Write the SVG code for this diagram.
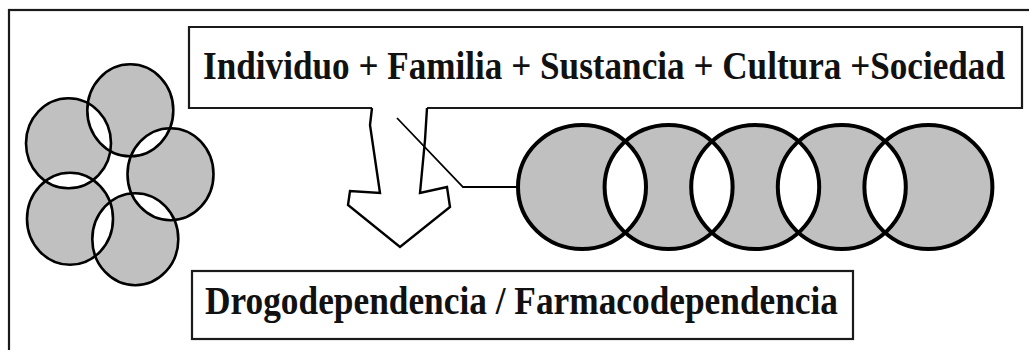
<svg xmlns="http://www.w3.org/2000/svg" width="1029" height="350" viewBox="0 0 1029 350">
<style>
.frame{fill:none;stroke:#1a1a1a;stroke-width:2.2}
.box{fill:#fff;stroke:#1a1a1a;stroke-width:2.2}
.lbl{font-family:"Liberation Serif","Times New Roman",serif;font-weight:bold;font-size:35px;fill:#111}
.ring{fill:none;stroke:#000}
.shade{fill:#c0c0c0;fill-rule:evenodd;stroke:none}
</style>
<rect width="1029" height="350" fill="#fff"/>
<rect class="frame" x="9" y="10" width="1040" height="360"/>

<g id="flower">
<path class="shade" d="M173.3,110.3a43,46 0 1,0 -86,0a43,46 0 1,0 86,0Z M111,143.3a42.5,45 0 1,0 -85,0a42.5,45 0 1,0 85,0Z M213.5,174.2a43,46 0 1,0 -86,0a43,46 0 1,0 86,0Z M113,218.8a43,46 0 1,0 -86,0a43,46 0 1,0 86,0Z M178.3,239.2a43,46 0 1,0 -86,0a43,46 0 1,0 86,0Z"/>
<g class="ring" stroke-width="2.6">
<ellipse cx="130.3" cy="110.3" rx="43" ry="46"/>
<ellipse cx="68.5" cy="143.3" rx="42.5" ry="45"/>
<ellipse cx="170.5" cy="174.2" rx="43" ry="46"/>
<ellipse cx="70" cy="218.8" rx="43" ry="46"/>
<ellipse cx="135.3" cy="239.2" rx="43" ry="46"/>
</g>
</g>

<g id="top-box">
<path class="box" d="M372,108 H189 V27 H1022 V108 H427"/>
<text class="lbl" transform="translate(203,79) scale(1,1.13)" x="0" y="0" textLength="802" lengthAdjust="spacingAndGlyphs">Individuo + Familia + Sustancia + Cultura +Sociedad</text>
</g>

<g id="arrow">
<path d="M372,108 L370,125 L380,193 L350,191 L348,205 L400,247 L450,207 L447,187 L420,193 L425,140 L427,108" fill="#fff" stroke="#000" stroke-width="2.4" stroke-linejoin="miter"/>
</g>

<g id="chain">
<path class="shade" d="M646,187a64,62 0 1,0 -128,0a64,62 0 1,0 128,0Z M732.6,187a64,62 0 1,0 -128,0a64,62 0 1,0 128,0Z M819.2,187a64,62 0 1,0 -128,0a64,62 0 1,0 128,0Z M905.8,187a64,62 0 1,0 -128,0a64,62 0 1,0 128,0Z M992.4,187a64,62 0 1,0 -128,0a64,62 0 1,0 128,0Z"/>
<g class="ring" stroke-width="4">
<ellipse cx="582" cy="187" rx="64" ry="62"/>
<ellipse cx="668.6" cy="187" rx="64" ry="62"/>
<ellipse cx="755.2" cy="187" rx="64" ry="62"/>
<ellipse cx="841.8" cy="187" rx="64" ry="62"/>
<ellipse cx="928.4" cy="187" rx="64" ry="62"/>
</g>
</g>

<g id="connectors">
<polyline points="397,118 463,187 518,187" fill="none" stroke="#000" stroke-width="1.8"/>
</g>

<g id="bottom-box">
<rect class="box" x="192" y="271" width="661" height="68"/>
<text class="lbl" transform="translate(205,314) scale(1,1.13)" x="0" y="0" textLength="633" lengthAdjust="spacingAndGlyphs">Drogodependencia / Farmacodependencia</text>
</g>
</svg>
